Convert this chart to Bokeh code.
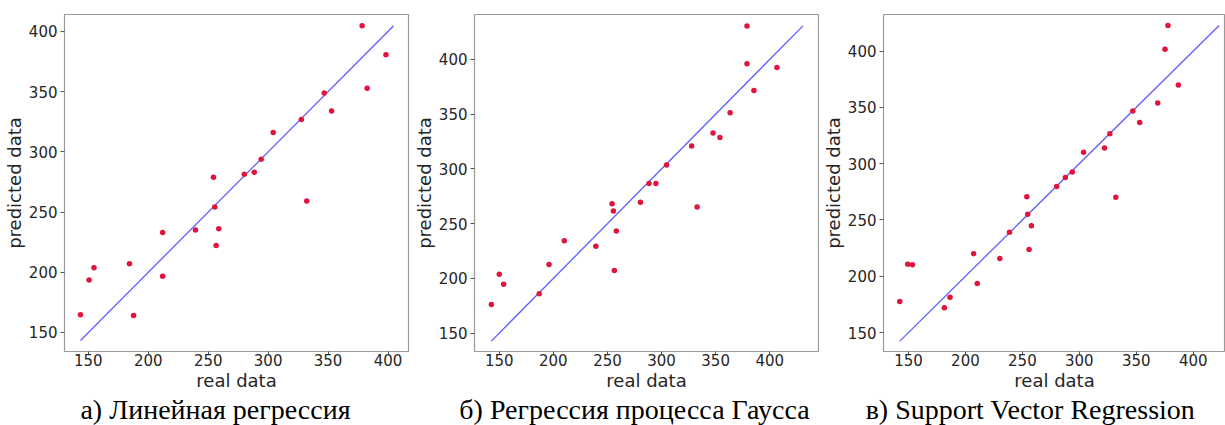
from bokeh.plotting import figure
from bokeh.layouts import row, column
from bokeh.models import FixedTicker, Label, Range1d
from bokeh.embed import file_html
from bokeh.resources import INLINE

# Test-set targets and model predictions for three regressors
lin_real = [143.4, 150.6, 154.7, 184.3, 187.7, 212.0, 212.0, 239.4, 254.4, 255.5, 256.6,
            258.8, 280.1, 288.4, 294.2, 304.2, 327.7, 332.2, 346.8, 352.9, 378.4, 382.6, 398.3]
lin_pred = [164.7, 193.5, 203.8, 207.1, 164.1, 233.1, 196.8, 235.1, 278.9, 254.2, 222.3,
            236.2, 281.4, 283.0, 293.8, 316.0, 326.8, 259.2, 349.0, 334.0, 404.7, 352.9, 380.6]

gpr_real = [142.7, 150.0, 154.0, 186.9, 196.0, 210.1, 239.3, 254.3, 255.5, 256.4, 258.2, 280.5,
            288.4, 294.8, 304.6, 327.8, 332.9, 347.6, 354.0, 363.4, 379.0, 379.0, 385.4, 406.7]
gpr_pred = [176.2, 203.8, 194.7, 185.9, 212.7, 234.5, 229.4, 268.3, 261.6, 207.2, 243.4, 269.5,
            286.6, 286.6, 303.6, 320.9, 265.3, 332.8, 328.8, 351.3, 430.7, 396.0, 371.7, 392.7]

svr_real = [142.4, 149.4, 153.5, 181.5, 186.5, 207.2, 210.4, 230.2, 238.7, 253.9, 254.7, 255.9, 257.9,
            280.1, 287.7, 293.8, 303.7, 322.1, 326.8, 332.0, 346.9, 353.0, 368.8, 375.2, 377.8, 386.9]
svr_pred = [177.6, 210.8, 210.2, 172.1, 181.4, 220.1, 193.6, 215.7, 239.2, 270.6, 255.2, 223.8, 244.8,
            279.7, 287.8, 292.7, 310.2, 314.0, 326.5, 270.1, 346.8, 336.6, 353.8, 401.7, 422.7, 369.8]

ticks = [150, 200, 250, 300, 350, 400]
x_label = "real data"
y_label = "predicted data"
captions = ["а) Линейная регрессия", "б) Регрессия процесса Гаусса", "в) Support Vector Regression"]
caption_centers = [215, 634, 1030]

POINT = "#E0143C"
LINE = "#4D4DFF"
TEXT = "#262626"
FRAME = "#9A9A9A"

PLOT_H = 394
CAP_H = 31


def style_axis(ax, tick_out, standoff, label_standoff):
    ax.ticker = FixedTicker(ticks=ticks)
    ax.axis_line_color = None
    ax.minor_tick_line_color = None
    ax.major_tick_line_color = "#555555"
    ax.major_tick_out = tick_out
    ax.major_tick_in = 0
    ax.major_label_standoff = standoff
    ax.major_label_text_font = "DejaVu Sans"
    ax.major_label_text_font_size = "15px"
    ax.major_label_text_color = TEXT
    ax.axis_label_text_font = "DejaVu Sans"
    ax.axis_label_text_font_size = "18px"
    ax.axis_label_text_font_style = "normal"
    ax.axis_label_text_color = TEXT
    ax.axis_label_text_line_height = 1.0
    ax.axis_label_standoff = label_standoff


def panel(real, pred, xr, yr, width, left, right, top):
    p = figure(width=width, height=PLOT_H, x_range=Range1d(*xr), y_range=Range1d(*yr),
               output_backend="svg", toolbar_location=None,
               min_border_left=left, min_border_right=right,
               min_border_top=top, min_border_bottom=PLOT_H - 351)
    p.grid.visible = False
    p.background_fill_color = "white"
    p.border_fill_color = "white"
    p.outline_line_color = FRAME
    p.outline_line_width = 1.2

    style_axis(p.xaxis[0], 3, -1, 1)
    style_axis(p.yaxis[0], 4, 3, 1)
    p.xaxis.axis_label = x_label
    p.yaxis.axis_label = y_label

    lo = min(min(real), min(pred))
    hi = max(max(real), max(pred))
    p.line([lo, hi], [lo, hi], line_color=LINE, line_width=1.3, line_alpha=0.9)
    p.scatter(real, pred, size=5.5, fill_color=POINT, line_color=None)
    return p


p1 = panel(lin_real, lin_pred, (130.1, 417.1), (134.2, 414.1), 410, 63, 2, 14)
p2 = panel(gpr_real, gpr_pred, (127.1, 445.1), (133.2, 441.1), 409, 61, 1, 13)
p3 = panel(svr_real, svr_pred, (128.1, 428.3), (133.2, 432.5), 406, 63, 0, 7)

# Caption strip under the three panels
cap = figure(width=1225, height=CAP_H, x_range=Range1d(0, 1225), y_range=Range1d(0, CAP_H),
             output_backend="svg", toolbar_location=None,
             min_border_left=0, min_border_right=0, min_border_top=0, min_border_bottom=0)
cap.axis.visible = False
cap.grid.visible = False
cap.outline_line_color = None
for text, cx in zip(captions, caption_centers):
    cap.add_layout(Label(x=cx, y=16, text=text,
                         text_font="Liberation Serif", text_font_size="28px",
                         text_color="#000000", text_align="center",
                         text_baseline="alphabetic"))

layout = column(row(p1, p2, p3, spacing=0), cap, spacing=0)

open("out.html", "w").write(file_html(layout, INLINE))
